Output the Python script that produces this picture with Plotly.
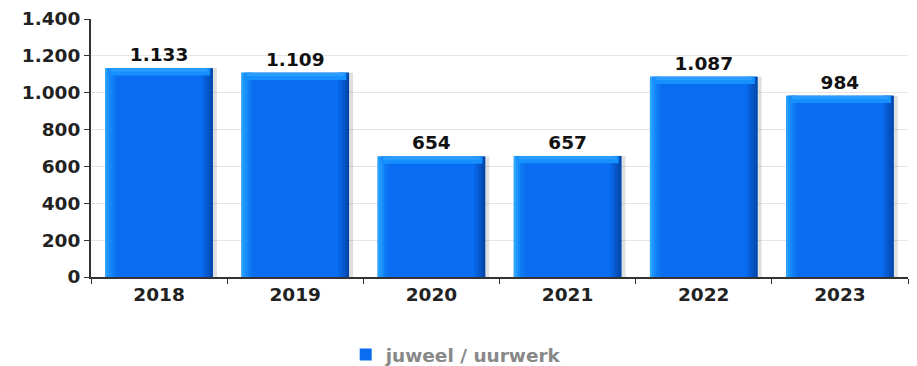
import plotly.graph_objects as go

years = ["2018", "2019", "2020", "2021", "2022", "2023"]
values = [1133, 1109, 654, 657, 1087, 984]
series_name = "juweel / uurwerk"
y_ticks = [0, 200, 400, 600, 800, 1000, 1200, 1400]

BAR_W = 0.79
FS = 18.5
fig = go.Figure()

# shadow
fig.add_trace(go.Bar(x=years, y=values, width=BAR_W, offset=-BAR_W / 2 + 0.03,
                     marker=dict(color="rgba(0,0,0,0.12)", line_width=0),
                     showlegend=False, hoverinfo="skip"))
# main bar
fig.add_trace(go.Bar(x=years, y=values, width=BAR_W, offset=-BAR_W / 2,
                     marker=dict(color="#0a6cf0", line_width=0),
                     name=series_name, showlegend=True,
                     text=[f"{v:,}".replace(",", ".") for v in values],
                     textposition="outside", cliponaxis=False,
                     textfont=dict(family="DejaVu Sans", size=FS, color="#111111", weight="bold"),
                     hoverinfo="skip"))

# left light gradient strips
left_cols = ["#2aa6ff", "#1f98ff", "#168afc", "#107ef7", "#0c75f3"]
sw = 0.016
for i, c in enumerate(left_cols):
    fig.add_trace(go.Bar(x=years, y=values, width=sw, offset=-BAR_W / 2 + i * sw,
                         marker=dict(color=c, line_width=0),
                         showlegend=False, hoverinfo="skip"))
# right dark gradient strips
right_cols = ["#0865e6", "#075ed8", "#0656c8", "#054eb8", "#0447a8"]
for i, c in enumerate(right_cols):
    fig.add_trace(go.Bar(x=years, y=values, width=sw,
                         offset=BAR_W / 2 - (len(right_cols) - i) * sw,
                         marker=dict(color=c, line_width=0),
                         showlegend=False, hoverinfo="skip"))
# top bevel highlight (two tones)
top_cols = [("#1690ff", 40, 0.02), ("#2a9cff", 18, 0.04)]
for c, h, inset in top_cols:
    fig.add_trace(go.Bar(x=years, y=[h] * len(values), base=[v - h for v in values],
                         width=BAR_W - 2 * inset, offset=-BAR_W / 2 + inset,
                         marker=dict(color=c, line_width=0),
                         showlegend=False, hoverinfo="skip"))

fig.update_layout(
    width=917, height=366,
    barmode="overlay",
    separators=",.",
    plot_bgcolor="white", paper_bgcolor="white",
    margin=dict(l=83, r=17, t=11, b=97, autoexpand=False),
    font=dict(family="DejaVu Sans", size=FS, color="#222222"),
    showlegend=True,
    legend=dict(orientation="h", x=0.447, xanchor="center", y=27, yref="container",
                yanchor="middle",
                font=dict(family="DejaVu Sans", size=FS, color="#888888", weight="bold"),
                itemwidth=30),
    xaxis=dict(showline=True, linecolor="#333333", linewidth=2, automargin=False,
               ticks="outside", tickson="boundaries", ticklen=5, tickcolor="#333333",
               tickfont=dict(family="DejaVu Sans", size=FS, color="#222222", weight="bold"),
               ticklabeloverflow="allow",
               showgrid=False, range=[-0.5, 5.5]),
    yaxis=dict(range=[0, 1400], tickvals=y_ticks, tickformat=",d", automargin=False,
               showline=True, linecolor="#333333", linewidth=2,
               ticks="outside", ticklen=5, tickcolor="#333333",
               tickfont=dict(family="DejaVu Sans", size=FS, color="#222222", weight="bold"),
               ticklabeloverflow="allow",
               showgrid=True, gridcolor="#e6e6e6", gridwidth=1, zeroline=False),
)

fig.write_html("out.html")
